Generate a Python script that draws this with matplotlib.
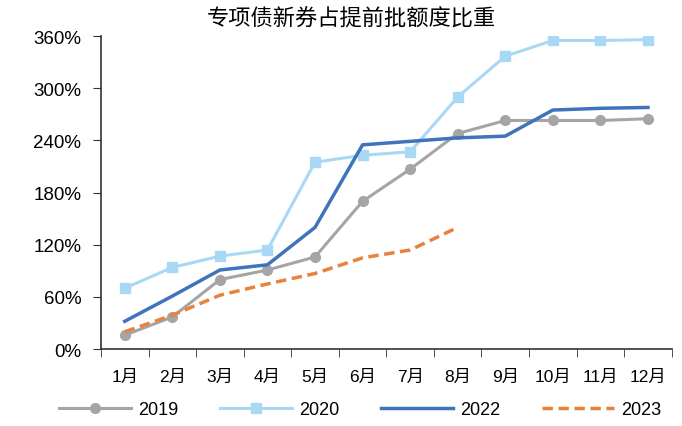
import matplotlib
matplotlib.use("Agg")
import matplotlib.pyplot as plt
from matplotlib.ticker import FixedLocator, FuncFormatter

plt.rcParams['font.family'] = ['Liberation Sans', 'Noto Sans CJK SC']

months = ["1月", "2月", "3月", "4月", "5月", "6月", "7月", "8月", "9月", "10月", "11月", "12月"]
s2019 = [16, 37, 80, 91, 106, 170, 207, 248, 263, 263, 263, 265]
s2020 = [70, 94, 107, 114, 215, 223, 227, 290, 337, 355, 355, 356]
s2022 = [32, 61, 91, 97, 140, 235, 239, 243, 245, 275, 277, 278]
s2023 = [20, 39, 62, 75, 87, 105, 114, 140]
yticks = [0, 60, 120, 180, 240, 300, 360]

fig = plt.figure(figsize=(6.82, 4.27), dpi=100)
ax = fig.add_axes([0.148, 0.180, 0.837, 0.733])

x = list(range(len(months)))
ax.plot(x, s2019, color="#a5a5a5", lw=2.2, marker="o", ms=7, label="2019")
ax.plot(x, s2020, color="#a9d8f5", lw=2.2, marker="s", ms=7, label="2020")
ax.plot(x, s2022, color="#3f74bd", lw=2.5, label="2022")
ax.plot(x[:len(s2023)], s2023, color="#e8823c", lw=2.5, ls=(0, (3, 1.6)), label="2023")

ax.set_xlim(-0.5, len(months) - 0.5)
ax.set_ylim(0, 360)
ax.set_yticks(yticks)
ax.yaxis.set_major_formatter(FuncFormatter(lambda v, p: f"{int(v)}%"))
ax.set_xticks(x)
ax.set_xticklabels(months)
ax.xaxis.set_minor_locator(FixedLocator([i - 0.5 for i in range(len(months) + 1)]))
ax.tick_params(axis='x', which='major', length=0, pad=14, labelsize=12.5)
ax.tick_params(axis='x', which='minor', length=6, direction='out', color="#333333")
ax.tick_params(axis='y', length=6, direction='out', labelsize=13.5, pad=8, color="#333333")

for s in ["top", "right"]:
    ax.spines[s].set_visible(False)
for s in ["left", "bottom"]:
    ax.spines[s].set_color("#333333")
    ax.spines[s].set_linewidth(1.2)

fig.text(0.515, 0.955, "专项债新券占提前批额度比重", ha="center", va="center",
         fontsize=16, family=["Noto Sans CJK SC"])

fig.legend(loc="lower center", bbox_to_anchor=(0.528, -0.02), ncol=4, frameon=False,
           fontsize=13, handlelength=4.0, columnspacing=2.3, handletextpad=0.4)

fig.savefig("out.png", dpi=100)
